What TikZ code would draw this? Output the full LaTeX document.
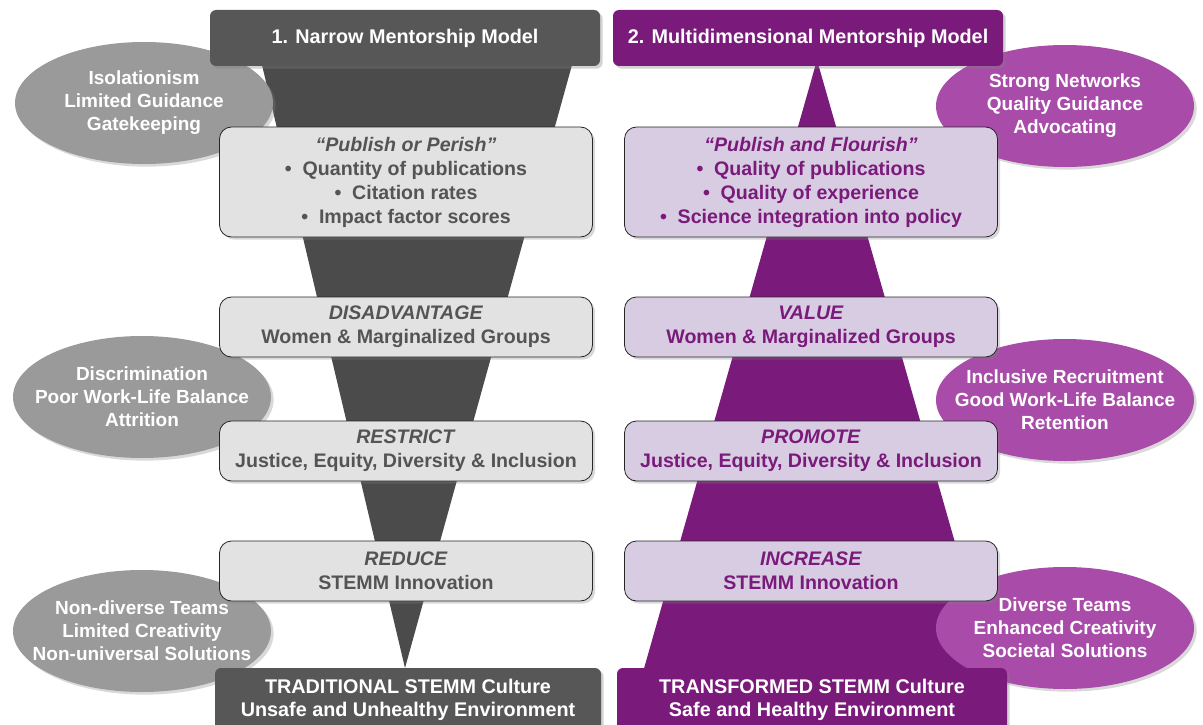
\documentclass[tikz,border=0pt]{standalone}
\usepackage{fontspec}
\setmainfont{Liberation Sans}
\usetikzlibrary{shapes.geometric,shadows}

\definecolor{darkgrey}{HTML}{575757}
\definecolor{trigrey}{HTML}{4B4B4B}
\definecolor{lightgrey}{HTML}{E2E2E2}
\definecolor{midgrey}{HTML}{9A9A9A}
\definecolor{textgrey}{HTML}{545454}
\definecolor{deeppurple}{HTML}{7A1A7A}
\definecolor{lightpurple}{HTML}{D8CCE2}
\definecolor{midpurple}{HTML}{A94CA9}

\tikzset{
  titlebox/.style={rounded corners=6pt, minimum width=390pt, minimum height=56pt,
    inner sep=0pt, text=white, align=center, font=\fontsize{19.8}{23}\selectfont\bfseries,
    drop shadow={opacity=0.35}},
  infobox/.style={draw=black!85, line width=0.8pt, rounded corners=12pt, minimum width=373pt,
    inner sep=0pt, align=center, font=\fontsize{19.6}{24}\selectfont\bfseries,
    drop shadow={opacity=0.3}},
  oval/.style={ellipse, minimum width=258pt, minimum height=122pt, inner xsep=-45pt, inner ysep=0pt,
    text=white, align=center, font=\fontsize{19}{23}\selectfont\bfseries,
    drop shadow={opacity=0.3}},
}

\begin{document}
\begin{tikzpicture}[x=1pt, y=-1pt]
    \useasboundingbox (0,0) rectangle (1203,725);
    % Trichter und Pyramide
    \fill[trigrey] (262,65) -- (572,65) -- (405,668) -- cycle;
    \fill[deeppurple] (817,60) -- (992,672) -- (643,672) -- cycle;
    % Ellipsen links
    \node[oval, fill=midgrey] (isol) at (144,103) {Isolationism\\Limited Guidance\\Gatekeeping};
    \node[oval, fill=midgrey] (discr) at (142,397) {Discrimination\\Poor Work-Life Balance\\Attrition};
    \node[oval, fill=midgrey] (teams) at (142,631) {Non-diverse Teams\\Limited Creativity\\Non-universal Solutions};
    % Ellipsen rechts
    \node[oval, fill=midpurple] (netw) at (1065,106) {Strong Networks\\Quality Guidance\\Advocating};
    \node[oval, fill=midpurple] (incl) at (1065,400) {Inclusive Recruitment\\Good Work-Life Balance\\Retention};
    \node[oval, fill=midpurple] (divers) at (1065,628) {Diverse Teams\\Enhanced Creativity\\Societal Solutions};
    % Titel
    \node[titlebox, fill=darkgrey] (narrow) at (405,38) {1. Narrow Mentorship Model};
    \node[titlebox, fill=deeppurple] (multi) at (808,38) {2. Multidimensional Mentorship Model};
    % Kaesten links
    \node[infobox, fill=lightgrey, text=textgrey, minimum height=110pt] (perish) at (406,182)
        {\textit{``Publish or Perish''}\\ •\ \ Quantity of publications\\ •\ \ Citation rates\\ •\ \ Impact factor scores};
    \node[infobox, fill=lightgrey, text=textgrey, minimum height=60pt] (disadv) at (406,327)
        {\textit{DISADVANTAGE}\\Women \& Marginalized Groups};
    \node[infobox, fill=lightgrey, text=textgrey, minimum height=60pt] (restrict) at (406,451)
        {\textit{RESTRICT}\\Justice, Equity, Diversity \& Inclusion};
    \node[infobox, fill=lightgrey, text=textgrey, minimum height=60pt] (reduce) at (406,571)
        {\textit{REDUCE}\\STEMM Innovation};
    % Kaesten rechts
    \node[infobox, fill=lightpurple, text=deeppurple, minimum height=110pt] (flourish) at (811,182)
        {\textit{``Publish and Flourish''}\\ •\ \ Quality of publications\\ •\ \ Quality of experience\\ •\ \ Science integration into policy};
    \node[infobox, fill=lightpurple, text=deeppurple, minimum height=60pt] (value) at (811,327)
        {\textit{VALUE}\\Women \& Marginalized Groups};
    \node[infobox, fill=lightpurple, text=deeppurple, minimum height=60pt] (promote) at (811,451)
        {\textit{PROMOTE}\\Justice, Equity, Diversity \& Inclusion};
    \node[infobox, fill=lightpurple, text=deeppurple, minimum height=60pt] (increase) at (811,571)
        {\textit{INCREASE}\\STEMM Innovation};
    % Kultur unten
    \node[titlebox, fill=darkgrey, minimum width=386pt, minimum height=64pt] (trad) at (408,700)
        {TRADITIONAL STEMM Culture\\Unsafe and Unhealthy Environment};
    \node[titlebox, fill=deeppurple, minimum width=390pt, minimum height=64pt] (transf) at (812,700)
        {TRANSFORMED STEMM Culture\\Safe and Healthy Environment};
\end{tikzpicture}
\end{document}
